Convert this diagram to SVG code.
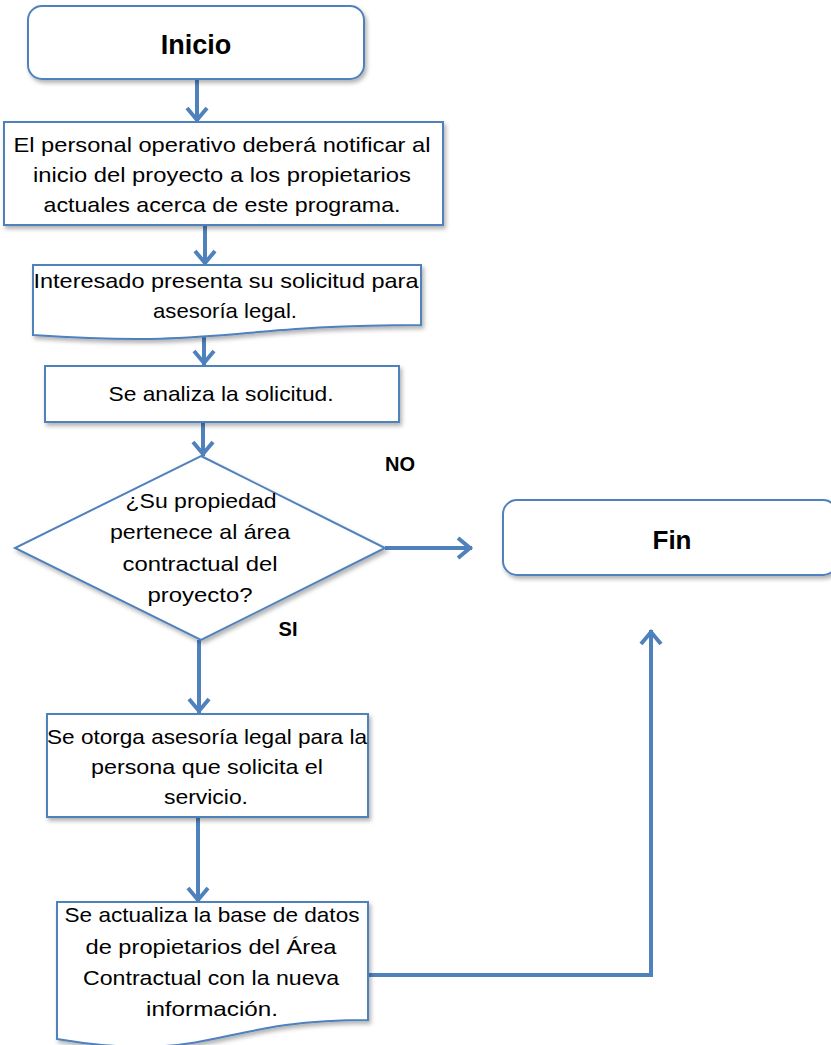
<svg xmlns="http://www.w3.org/2000/svg" width="831" height="1045" viewBox="0 0 831 1045">
<defs>
<style>
.shape{fill:#ffffff;stroke:#4F81BD;stroke-width:2;filter:url(#sh)}
.t{font-family:"Liberation Sans",Arial,sans-serif;font-size:21px;fill:#000;text-anchor:middle}
.b{font-family:"Liberation Sans",Arial,sans-serif;font-weight:bold;fill:#000;text-anchor:middle}
.c{fill:none;stroke:#4F81BD;stroke-width:4;marker-end:url(#ah)}
</style>
<filter id="sh" x="-10%" y="-10%" width="125%" height="130%">
<feDropShadow dx="2" dy="3" stdDeviation="2" flood-color="#000" flood-opacity="0.3"/>
</filter>
<marker id="ah" viewBox="-16 -12 18 24" refX="0" refY="0" markerWidth="18" markerHeight="24" markerUnits="userSpaceOnUse" orient="auto">
<path d="M-14,-10 L-2,0 L-14,10" fill="none" stroke="#4F81BD" stroke-width="4" stroke-linejoin="miter"/>
</marker>
</defs>
<rect width="831" height="1045" fill="#ffffff"/>

<g id="connectors">
<line class="c" x1="197" y1="80" x2="197" y2="122"/>
<line class="c" x1="205" y1="225" x2="205" y2="265"/>
<line class="c" x1="204" y1="336" x2="204" y2="365"/>
<line class="c" x1="203" y1="422" x2="203" y2="456"/>
<line class="c" x1="385" y1="548" x2="472" y2="548"/>
<line class="c" x1="199" y1="640" x2="199" y2="713"/>
<line class="c" x1="198" y1="818" x2="198" y2="902"/>
<polyline class="c" points="368,975 651,975 651,630"/>
</g>

<g id="inicio">
<rect class="shape" x="28" y="6" width="336" height="73" rx="14"/>
<text class="b" x="196" y="54" font-size="27">Inicio</text>
</g>

<g id="notificar">
<rect class="shape" x="4" y="122" width="439" height="103"/>
<text class="t" x="222" y="152" textLength="417" lengthAdjust="spacingAndGlyphs">El personal operativo deberá notificar al</text>
<text class="t" x="222" y="182" textLength="378" lengthAdjust="spacingAndGlyphs">inicio del proyecto a los propietarios</text>
<text class="t" x="222" y="212" textLength="357" lengthAdjust="spacingAndGlyphs">actuales acerca de este programa.</text>
</g>

<g id="solicitud">
<path class="shape" d="M33,265 H421 V325 C227,325 227,348 33,335 Z"/>
<text class="t" x="226" y="288" textLength="385" lengthAdjust="spacingAndGlyphs">Interesado presenta su solicitud para</text>
<text class="t" x="225" y="318" textLength="144" lengthAdjust="spacingAndGlyphs">asesoría legal.</text>
</g>

<g id="analiza">
<rect class="shape" x="45" y="366" width="354" height="56"/>
<text class="t" x="221" y="401" textLength="225" lengthAdjust="spacingAndGlyphs">Se analiza la solicitud.</text>
</g>

<g id="decision">
<polygon class="shape" points="201,456 385,548 201,640 15,548"/>
<text class="t" x="201" y="508" textLength="151" lengthAdjust="spacingAndGlyphs">¿Su propiedad</text>
<text class="t" x="200" y="539" textLength="180" lengthAdjust="spacingAndGlyphs">pertenece al área</text>
<text class="t" x="200" y="571" textLength="155" lengthAdjust="spacingAndGlyphs">contractual del</text>
<text class="t" x="200" y="602" textLength="105" lengthAdjust="spacingAndGlyphs">proyecto?</text>
</g>

<g id="labels">
<text class="b" x="400" y="471" font-size="20">NO</text>
<text class="b" x="288" y="636" font-size="20">SI</text>
</g>

<g id="fin">
<rect class="shape" x="503" y="500" width="334" height="75" rx="14"/>
<text class="b" x="672" y="549" font-size="26">Fin</text>
</g>

<g id="asesoria">
<rect class="shape" x="47" y="714" width="321" height="103"/>
<text class="t" x="207" y="744" textLength="320" lengthAdjust="spacingAndGlyphs">Se otorga asesoría legal para la</text>
<text class="t" x="207" y="774" textLength="232" lengthAdjust="spacingAndGlyphs">persona que solicita el</text>
<text class="t" x="206" y="804" textLength="84" lengthAdjust="spacingAndGlyphs">servicio.</text>
</g>

<g id="actualiza">
<path class="shape" d="M57,902 H368 V1020 C212,1020 212,1065 57,1039 Z"/>
<text class="t" x="212" y="922" textLength="295" lengthAdjust="spacingAndGlyphs">Se actualiza la base de datos</text>
<text class="t" x="211" y="954" textLength="251" lengthAdjust="spacingAndGlyphs">de propietarios del Área</text>
<text class="t" x="211" y="985" textLength="256" lengthAdjust="spacingAndGlyphs">Contractual con la nueva</text>
<text class="t" x="212" y="1016" textLength="132" lengthAdjust="spacingAndGlyphs">información.</text>
</g>
</svg>
